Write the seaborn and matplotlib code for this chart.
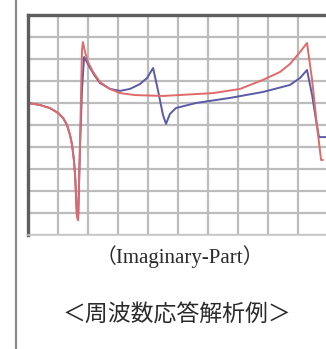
import matplotlib
matplotlib.use("Agg")
import matplotlib.pyplot as plt
import seaborn as sns
import pandas as pd
from matplotlib.lines import Line2D

# Data (grid units: x 0..10, y 0..10)
common_x = [0.00, 0.40, 0.73, 1.00, 1.17, 1.30, 1.40, 1.47, 1.53, 1.57, 1.60, 1.63, 1.67]
common_y = [6.00, 5.91, 5.77, 5.55, 5.32, 5.00, 4.55, 4.09, 3.41, 2.73, 1.82, 0.91, 0.68]

red_x = [1.73, 1.77, 1.80, 1.83, 1.90, 2.00, 2.17, 2.40, 2.73, 3.07, 3.57, 4.50, 6.17,
         7.07, 7.83, 8.40, 8.73, 9.07, 9.30, 9.47, 9.63, 9.77, 9.83]
red_y = [3.86, 6.59, 8.41, 8.77, 8.32, 7.86, 7.41, 6.95, 6.64, 6.45, 6.36, 6.32, 6.45,
         6.64, 7.05, 7.41, 7.77, 8.32, 8.73, 7.05, 5.00, 3.41, 3.41]

blue_x = [1.73, 1.80, 1.87, 1.93, 2.07, 2.23, 2.40, 2.73, 3.07, 3.40, 3.73, 3.97, 4.17,
          4.33, 4.50, 4.60, 4.73, 4.93, 5.60, 6.73, 7.83, 8.73, 9.07, 9.30, 9.47, 9.60,
          9.70, 9.93]
blue_y = [3.86, 6.59, 8.09, 7.95, 7.59, 7.23, 6.91, 6.64, 6.55, 6.64, 6.86, 7.14, 7.59,
          6.59, 5.45, 5.05, 5.50, 5.77, 6.00, 6.23, 6.50, 6.82, 7.14, 7.50, 6.36, 5.23,
          4.45, 4.45]

series_names = ["red", "blue"]
colors = {"red": "#e06a6a", "blue": "#5a5aa6"}

rows = []
for name, xs, ys in [("red", common_x + red_x, common_y + red_y),
                     ("blue", common_x + blue_x, common_y + blue_y)]:
    for i, (x, y) in enumerate(zip(xs, ys)):
        rows.append({"series": name, "x": x, "y": y, "order": i})
df = pd.DataFrame(rows)

sns.set_style("white")
plt.rcParams['font.family'] = ['DejaVu Sans']

fig = plt.figure(figsize=(3.26, 3.49), dpi=100)
W, H = 326, 349
ax = fig.add_axes([28 / W, (H - 235) / H, 300 / W, 220 / H])

sns.lineplot(data=df, x="x", y="y", hue="series", palette=colors,
             hue_order=["blue", "red"], estimator=None, sort=False,
             linewidth=1.4, legend=False, ax=ax)

ax.set_xlim(0, 10)
ax.set_ylim(0, 10)
ax.set_xticks(range(11))
ax.set_yticks(range(11))
ax.set_xticklabels([])
ax.set_yticklabels([])
ax.tick_params(length=0)
ax.set_xlabel("")
ax.set_ylabel("")
ax.grid(True, color="#bcbcbc", linewidth=1.6)
ax.set_axisbelow(True)
for s in ["left", "top"]:
    ax.spines[s].set_color("#5e5e5e")
    ax.spines[s].set_linewidth(2.4)
ax.spines["bottom"].set_color("#c8c8c8")
ax.spines["bottom"].set_linewidth(1.2)
ax.spines["right"].set_visible(False)

fig.add_artist(Line2D([15.5 / W, 15.5 / W], [0, 1], color="#8a8a8a", linewidth=1.6))

fig.text(180 / W, 1 - 257 / H, "（Imaginary-Part）", ha="center", va="center",
         fontsize=15, color="#2a2a2a", family=["Liberation Serif", "Noto Sans CJK JP"])
fig.text(177 / W, 1 - 315 / H, "＜周波数応答解析例＞", ha="center", va="center",
         fontsize=16.5, color="#2a2a2a", family=["Noto Sans CJK JP", "DejaVu Sans"])

fig.savefig("out.png", dpi=100, facecolor="white")
